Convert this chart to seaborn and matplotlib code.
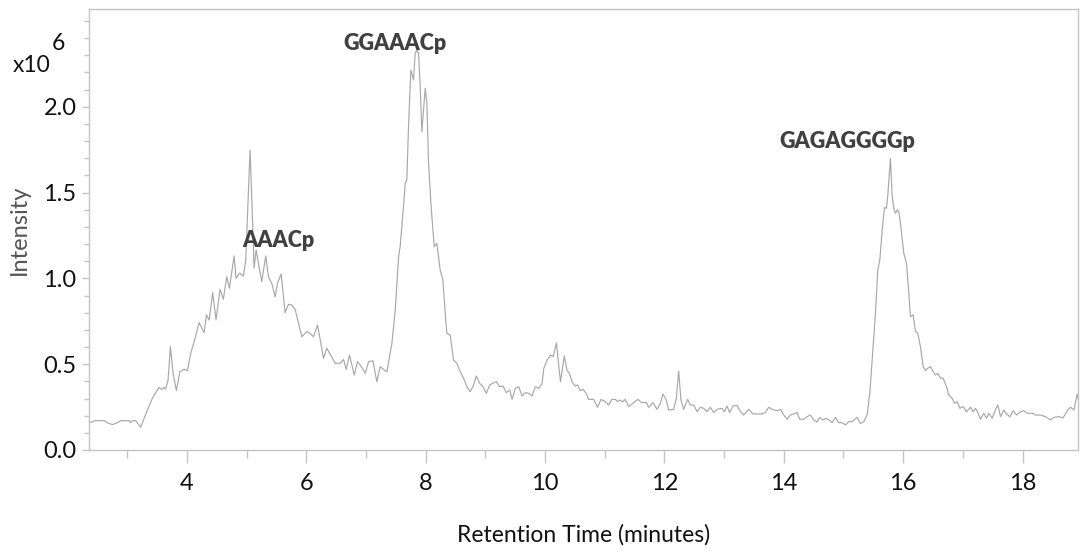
import matplotlib
matplotlib.use("Agg")
import matplotlib.pyplot as plt
import seaborn as sns
import pandas as pd
import numpy as np
from matplotlib.ticker import MultipleLocator, FixedLocator

# ---- data (x: minutes, y: intensity x10^6) ----
time_min = [
    2.357, 2.469, 2.608, 2.664, 2.748, 2.832, 2.888, 3.028, 3.056, 3.084, 3.139, 3.223, 3.335, 3.419,
    3.531, 3.575, 3.614, 3.642, 3.682, 3.721, 3.766, 3.822, 3.878, 3.950, 4.006, 4.062, 4.135, 4.202,
    4.286, 4.325, 4.370, 4.430, 4.486, 4.553, 4.609, 4.665, 4.710, 4.788, 4.822, 4.878, 4.944, 4.984,
    5.056, 5.101, 5.123, 5.157, 5.196, 5.252, 5.319, 5.364, 5.420, 5.476, 5.515, 5.577, 5.643, 5.699,
    5.755, 5.811, 5.923, 6.007, 6.063, 6.119, 6.186, 6.242, 6.286, 6.342, 6.398, 6.482, 6.566, 6.622,
    6.667, 6.723, 6.801, 6.857, 6.930, 6.986, 7.042, 7.114, 7.181, 7.237, 7.304, 7.349, 7.433, 7.489,
    7.545, 7.571, 7.627, 7.655, 7.683, 7.711, 7.750, 7.795, 7.823, 7.851, 7.879, 7.907, 7.935, 7.991,
    8.019, 8.047, 8.086, 8.142, 8.186, 8.242, 8.287, 8.326, 8.354, 8.410, 8.466, 8.522, 8.578, 8.634,
    8.690, 8.746, 8.802, 8.847, 8.903, 8.959, 9.015, 9.071, 9.138, 9.183, 9.239, 9.295, 9.351, 9.407,
    9.446, 9.502, 9.558, 9.614, 9.670, 9.726, 9.782, 9.838, 9.894, 9.950, 9.978, 10.034, 10.090, 10.135,
    10.191, 10.230, 10.258, 10.321, 10.366, 10.411, 10.450, 10.506, 10.545, 10.589, 10.634, 10.690,
    10.729, 10.813, 10.880, 10.936, 11.009, 11.064, 11.120, 11.176, 11.215, 11.249, 11.305, 11.344,
    11.400, 11.456, 11.551, 11.623, 11.696, 11.735, 11.808, 11.875, 11.931, 11.975, 12.031, 12.071,
    12.154, 12.199, 12.238, 12.277, 12.322, 12.389, 12.434, 12.490, 12.546, 12.601, 12.657, 12.713,
    12.769, 12.825, 12.881, 12.965, 13.004, 13.049, 13.093, 13.149, 13.216, 13.272, 13.328, 13.412,
    13.485, 13.635, 13.691, 13.747, 13.803, 13.887, 13.943, 13.988, 14.055, 14.110, 14.222, 14.267,
    14.334, 14.390, 14.446, 14.502, 14.558, 14.602, 14.658, 14.714, 14.770, 14.809, 14.865, 14.921,
    14.977, 15.033, 15.089, 15.145, 15.228, 15.284, 15.340, 15.396, 15.441, 15.480, 15.536, 15.575,
    15.609, 15.648, 15.687, 15.720, 15.743, 15.787, 15.815, 15.843, 15.871, 15.899, 15.927, 15.955,
    16.011, 16.056, 16.095, 16.123, 16.167, 16.207, 16.246, 16.290, 16.335, 16.374, 16.413, 16.458,
    16.503, 16.542, 16.581, 16.626, 16.670, 16.726, 16.765, 16.821, 16.860, 16.905, 16.950, 17.006,
    17.062, 17.129, 17.173, 17.213, 17.252, 17.296, 17.352, 17.397, 17.436, 17.492, 17.548, 17.587,
    17.632, 17.688, 17.732, 17.788, 17.844, 17.900, 17.967, 18.023, 18.079, 18.163, 18.219, 18.302,
    18.386, 18.470, 18.526, 18.610, 18.682, 18.750, 18.805, 18.861, 18.917, 18.962,
]
intensity = [
    0.159, 0.171, 0.171, 0.159, 0.148, 0.159, 0.171, 0.171, 0.159, 0.171, 0.171, 0.132, 0.233, 0.301,
    0.365, 0.353, 0.365, 0.355, 0.408, 0.602, 0.447, 0.346, 0.456, 0.470, 0.462, 0.563, 0.651, 0.742,
    0.684, 0.787, 0.758, 0.917, 0.758, 0.936, 0.878, 1.010, 0.942, 1.131, 1.000, 1.030, 1.014, 1.107,
    1.748, 1.301, 1.059, 1.166, 1.088, 0.981, 1.131, 1.010, 0.971, 0.893, 0.971, 1.026, 0.800, 0.849,
    0.845, 0.820, 0.660, 0.690, 0.680, 0.660, 0.728, 0.622, 0.534, 0.593, 0.559, 0.505, 0.505, 0.528,
    0.470, 0.553, 0.437, 0.515, 0.482, 0.447, 0.515, 0.520, 0.398, 0.486, 0.466, 0.457, 0.622, 0.816,
    1.127, 1.185, 1.418, 1.554, 1.573, 1.884, 2.214, 2.156, 2.312, 2.331, 2.312, 2.117, 1.855, 2.108,
    2.020, 1.671, 1.438, 1.185, 1.204, 1.049, 0.991, 0.797, 0.680, 0.670, 0.524, 0.505, 0.456, 0.418,
    0.369, 0.340, 0.379, 0.431, 0.389, 0.369, 0.330, 0.379, 0.392, 0.398, 0.369, 0.373, 0.334, 0.350,
    0.295, 0.359, 0.369, 0.315, 0.334, 0.330, 0.315, 0.369, 0.359, 0.389, 0.476, 0.524, 0.553, 0.544,
    0.625, 0.486, 0.398, 0.548, 0.466, 0.443, 0.398, 0.373, 0.379, 0.346, 0.354, 0.330,
    0.295, 0.295, 0.249, 0.295, 0.282, 0.262, 0.295, 0.295, 0.282, 0.291, 0.282, 0.295,
    0.253, 0.268, 0.295, 0.276, 0.276, 0.249, 0.276, 0.237, 0.272, 0.326, 0.291, 0.233,
    0.237, 0.301, 0.460, 0.291, 0.237, 0.295, 0.262, 0.262, 0.224, 0.249, 0.243, 0.224,
    0.249, 0.218, 0.237, 0.243, 0.224, 0.256, 0.218, 0.256, 0.260, 0.224, 0.204, 0.237,
    0.210, 0.210, 0.218, 0.249, 0.237, 0.229, 0.237, 0.210, 0.179, 0.204, 0.218, 0.179,
    0.179, 0.194, 0.204, 0.175, 0.163, 0.190, 0.175, 0.185, 0.171, 0.159, 0.190, 0.159,
    0.159, 0.146, 0.165, 0.165, 0.190, 0.155, 0.165, 0.204, 0.330, 0.524, 0.797, 1.049,
    1.107, 1.282, 1.414, 1.408, 1.486, 1.700, 1.486, 1.408, 1.379, 1.399, 1.389, 1.321,
    1.146, 1.088, 0.913, 0.777, 0.787, 0.690, 0.680, 0.602, 0.486, 0.463, 0.476, 0.486,
    0.457, 0.437, 0.447, 0.418, 0.418, 0.369, 0.320, 0.301, 0.272, 0.282, 0.243, 0.253,
    0.223, 0.249, 0.223, 0.243, 0.218, 0.179, 0.214, 0.185, 0.214, 0.185, 0.237, 0.262,
    0.194, 0.233, 0.210, 0.194, 0.229, 0.204, 0.223, 0.229, 0.214, 0.214, 0.204, 0.204,
    0.194, 0.175, 0.190, 0.194, 0.188, 0.229, 0.249, 0.233, 0.326, 0.253,
]

peak_labels = ["AAACp", "GGAAACp", "GAGAGGGGp"]
peak_label_x = [5.53, 7.49, 15.07]
peak_label_y = [1.22, 2.37, 1.80]

x_ticks = [4, 6, 8, 10, 12, 14, 16, 18]
y_ticks = [0.0, 0.5, 1.0, 1.5, 2.0]
y_tick_labels = ["0.0", "0.5", "1.0", "1.5", "2.0"]

df = pd.DataFrame({"Retention Time (minutes)": time_min, "Intensity": intensity})

sns.set_style("white")
plt.rcParams["font.family"] = ["Lato", "DejaVu Sans"]

fig = plt.figure(figsize=(10.8, 5.52), dpi=100)
ax = fig.add_axes([89 / 1080, 1 - 450 / 552, (1078 - 89) / 1080, (450 - 9) / 552])

sns.lineplot(data=df, x="Retention Time (minutes)", y="Intensity", ax=ax,
             color="#a8a8a8", linewidth=0.85)

ax.set_xlim(2.357, 18.93)
ax.set_ylim(0, 2.57)

spine_col = "#c4c4c4"
for s in ax.spines.values():
    s.set_color(spine_col)
    s.set_linewidth(1.0)
    s.set_visible(True)

ax.xaxis.set_major_locator(FixedLocator(x_ticks))
ax.xaxis.set_minor_locator(MultipleLocator(1))
ax.yaxis.set_major_locator(FixedLocator(y_ticks))
ax.set_yticklabels(y_tick_labels)
ax.yaxis.set_minor_locator(FixedLocator([i / 10 for i in range(0, 26)]))

ax.tick_params(axis="x", which="major", direction="out", length=9.5, width=1,
               color=spine_col, labelsize=17, labelcolor="#111111", pad=7,
               bottom=True)
ax.tick_params(axis="x", which="minor", direction="out", length=6, width=1,
               color=spine_col, bottom=True)
ax.tick_params(axis="y", which="major", direction="out", length=5, width=1,
               color=spine_col, labelsize=17, labelcolor="#111111", pad=4, left=True)
ax.tick_params(axis="y", which="minor", direction="out", length=3.5, width=1,
               color=spine_col, left=True)

ax.set_xlabel("Retention Time (minutes)", fontsize=16.5, color="#111111", labelpad=22)
ax.set_ylabel("Intensity", fontsize=17, color="#555555", labelpad=10)

for lab, lx, ly in zip(peak_labels, peak_label_x, peak_label_y):
    ax.text(lx, ly, lab, ha="center", va="center", fontsize=15.5, fontweight="heavy",
            color="#404040")

fig.text(13 / 1080, 1 - 66 / 552, "x10", fontsize=16.5, color="#111111", ha="left", va="center")
fig.text(52 / 1080, 1 - 44 / 552, "6", fontsize=16.5, color="#111111", ha="left", va="center")

fig.savefig("out.png", dpi=100, facecolor="white")
